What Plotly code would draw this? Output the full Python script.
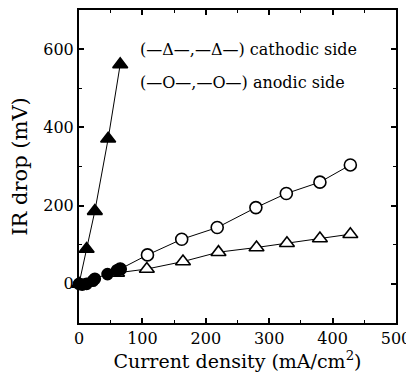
import plotly.graph_objects as go

# Data
cat_filled_x = [0, 12, 25, 46, 65]
cat_filled_y = [0, 89, 186, 371, 561]

an_filled_x = [0, 5, 12, 22, 25, 45, 60, 65]
an_filled_y = [0, -2, 0, 8, 13, 25, 35, 38]

cat_open_x = [60, 107, 164, 220, 280, 328, 380, 428]
cat_open_y = [28, 38, 57, 81, 93, 104, 116, 127]

an_open_x = [65, 108, 162, 218, 279, 327, 380, 428]
an_open_y = [38, 74, 114, 144, 195, 231, 260, 304]

x_ticks = [0, 100, 200, 300, 400, 500]
y_ticks = [0, 200, 400, 600]

FONT = "DejaVu Serif"

fig = go.Figure()

def add(x, y, symbol, filled, size):
    fig.add_trace(go.Scatter(
        x=x, y=y, mode="lines+markers",
        line=dict(color="black", width=1),
        marker=dict(symbol=symbol, size=size,
                    color="black" if filled else "white",
                    line=dict(color="black", width=1.6)),
        showlegend=False, cliponaxis=False))

add(cat_open_x, cat_open_y, "triangle-up", False, 13)
add(an_open_x, an_open_y, "circle", False, 12)
add(cat_filled_x, cat_filled_y, "triangle-up", True, 13)
add(an_filled_x, an_filled_y, "circle", True, 11)

fig.add_annotation(x=0.185, y=600, xref="paper", yref="y", xanchor="left",
                   text="(—Δ—,—Δ—) cathodic side", showarrow=False,
                   font=dict(family=FONT, size=16, color="black"))
fig.add_annotation(x=0.185, y=515, xref="paper", yref="y", xanchor="left",
                   text="(—O—,—O—) anodic side", showarrow=False,
                   font=dict(family=FONT, size=16, color="black"))

axis_common = dict(showline=True, linecolor="black", linewidth=2, mirror="ticks",
                   ticks="inside", ticklen=5, tickwidth=1.5, tickcolor="black",
                   showgrid=False, zeroline=False, automargin=False,
                   tickfont=dict(family=FONT, size=16, color="black"),
                   minor=dict(ticks="inside", ticklen=3, tickwidth=1, tickcolor="black"))

fig.update_xaxes(range=[0, 500], tickvals=x_ticks, ticktext=[str(v) for v in x_ticks],
                 title=dict(text="Current density (mA/cm<sup>2</sup>)", standoff=0,
                            font=dict(family=FONT, size=19, color="black")),
                 minor_dtick=50, **axis_common)
fig.update_yaxes(range=[-100, 700], tickvals=y_ticks, ticktext=[str(v) for v in y_ticks],
                 title=dict(text="IR drop (mV)",
                            font=dict(family=FONT, size=21, color="black")),
                 minor_dtick=100, **axis_common)

# page body adds an 8px margin, so the figure is sized to fit the 414x384 window
fig.update_layout(width=406, height=376, margin=dict(l=71, r=18, t=2, b=61),
                  paper_bgcolor="white", plot_bgcolor="white")

fig.write_html("out.html")
